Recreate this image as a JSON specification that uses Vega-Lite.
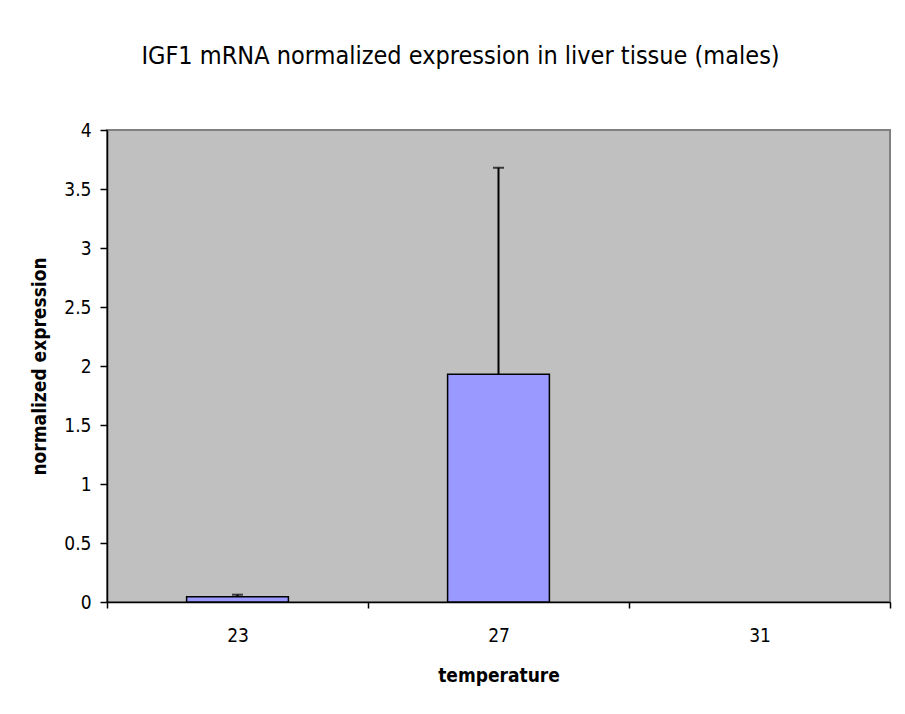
{
  "$schema": "https://vega.github.io/schema/vega-lite/v6.json",
  "autosize": {"type": "none"},
  "width": 783,
  "height": 472,
  "padding": {"left": 107, "top": 130, "right": 15, "bottom": 112},
  "background": "white",
  "title": {
    "text": "IGF1 mRNA normalized expression in liver tissue (males)",
    "font": "Liberation Sans Narrow, Arial Narrow, DejaVu Sans Condensed, sans-serif",
    "fontSize": 25,
    "fontWeight": "normal",
    "color": "black",
    "anchor": "middle",
    "frame": "group",
    "dx": -38,
    "offset": 52
  },
  "data": {
    "values": [
      {"temperature": "23", "expression": 0.045, "upper": 0.062},
      {"temperature": "27", "expression": 1.93, "upper": 3.68},
      {"temperature": "31", "expression": 0, "upper": 0}
    ]
  },
  "encoding": {
    "x": {
      "field": "temperature",
      "type": "nominal",
      "sort": null,
      "scale": {"domain": ["23", "27", "31"], "paddingInner": 0, "paddingOuter": 0},
      "axis": {
        "title": "temperature",
        "labelAngle": 0,
        "tickBand": "extent",
        "tickSize": 6,
        "labelPadding": 18,
        "titlePadding": 21
      }
    }
  },
  "layer": [
    {
      "transform": [{"filter": "datum.expression > 0"}],
      "mark": {"type": "bar", "fill": "#9999FF", "stroke": "black", "strokeWidth": 1.5, "width": {"band": 0.39}},
      "encoding": {
        "y": {
          "field": "expression",
          "type": "quantitative",
          "scale": {"domain": [0, 4]},
          "axis": {
            "title": "normalized expression",
            "values": [0, 0.5, 1, 1.5, 2, 2.5, 3, 3.5, 4],
            "format": "~g",
            "grid": false,
            "tickSize": 7,
            "labelPadding": 9,
            "titlePadding": 14
          }
        }
      }
    },
    {
      "transform": [{"filter": "datum.upper > datum.expression"}],
      "mark": {"type": "rule", "color": "black", "strokeWidth": 2},
      "encoding": {
        "y": {"field": "expression", "type": "quantitative"},
        "y2": {"field": "upper"}
      }
    },
    {
      "transform": [{"filter": "datum.upper > datum.expression"}],
      "mark": {"type": "tick", "color": "black", "thickness": 2, "size": 11},
      "encoding": {
        "y": {"field": "upper", "type": "quantitative"}
      }
    }
  ],
  "config": {
    "view": {"fill": "#C0C0C0", "stroke": "#808080", "strokeWidth": 2},
    "axis": {
      "domainColor": "black",
      "domainWidth": 1.5,
      "tickColor": "black",
      "tickWidth": 1.5,
      "labelFont": "Liberation Sans Narrow, Arial Narrow, DejaVu Sans Condensed, sans-serif",
      "labelFontSize": 19,
      "labelColor": "black",
      "titleFont": "Liberation Sans Narrow, Arial Narrow, DejaVu Sans Condensed, sans-serif",
      "titleFontSize": 19,
      "titleFontWeight": "bold",
      "titleColor": "black"
    }
  }
}
